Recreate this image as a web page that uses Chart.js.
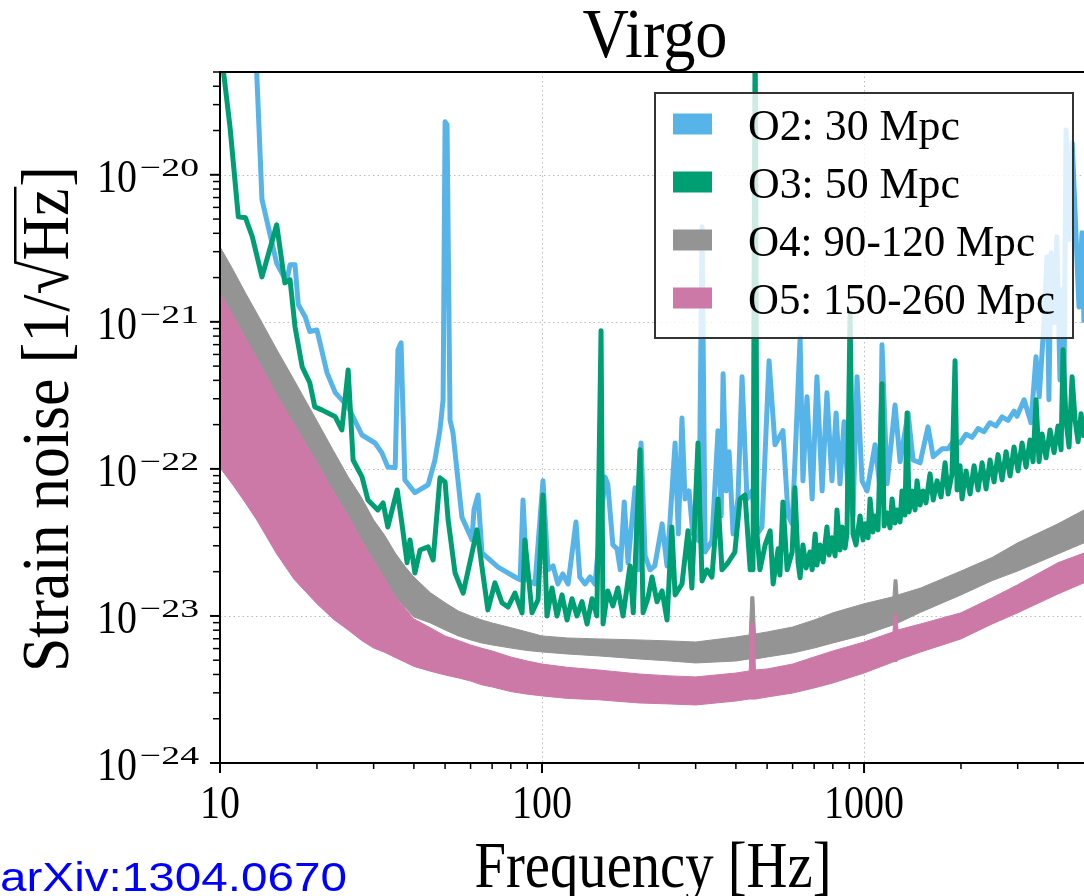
<!DOCTYPE html>
<html lang="en">
<head>
<meta charset="UTF-8" />
<title>Virgo strain noise</title>
<script src="https://cdn.jsdelivr.net/npm/chart.js"></script>
<style>
  html, body { margin: 0; padding: 0; background: #ffffff; }
  #wrap { position: relative; width: 1084px; height: 896px; }
</style>
</head>
<body>
<div id="wrap"><canvas id="noiseChart" width="1084" height="896"></canvas></div>
<script>
// ---- measured spectra (frequency in Hz, strain in 1/sqrt(Hz)) ----
const o2Freq = [
  12.5, 13.0, 13.5, 15.0, 16.1, 16.5, 17.1, 17.5, 18.4, 19.0,
  20.0, 21.5, 22.8, 25.0, 27.6, 30.3, 31.8, 33.2, 35.0, 35.7,
  36.5, 37.5, 40.3, 44.3, 46.5, 48.2, 49.3, 50.0, 50.7, 51.8,
  52.9, 56.4, 60.6, 61.5, 63.3, 65.1, 73.0, 82.4, 85.5, 87.3,
  89.8, 95.1, 100.7, 104.4, 108.2, 112, 116, 120.5, 127.5, 131,
  136, 141, 146, 157, 160, 166, 171, 175, 180, 185,
  194.5, 199, 203, 209, 216.5, 224, 236, 244.5, 259, 265,
  272, 278, 286, 294, 307, 314, 321, 337, 352, 360,
  365, 373, 381, 392, 406, 418, 433, 449, 465, 482,
  507, 529, 560, 581, 598, 610, 633, 646, 665, 690,
  714, 741, 767, 795, 819, 842, 867, 891, 924, 951,
  986, 1022, 1082, 1121, 1137, 1179, 1248, 1294, 1370, 1420,
  1493, 1580, 1640, 1747, 1824, 1903, 1987, 2074, 2165, 2260,
  2358, 2460, 2570, 2683, 2800, 2923, 2985, 3140, 3300, 3420,
  3500, 3620, 3700, 3750, 3810, 3890, 3970, 4060, 4120, 4180,
  4240, 4330, 4430, 4550, 4650, 4750, 4820, 5030
];
const o2Strain = [
  3e-19, 5.0e-20, 6.8e-21, 2.5e-21, 1.87e-21, 2.44e-21, 2.44e-21, 1.31e-21, 1.08e-21, 8.6e-22,
  8.8e-22, 4.5e-22, 3.3e-22, 2.64e-22, 1.7e-22, 1.5e-22, 1.29e-22, 1.03e-22, 1.02e-22, 6.45e-22,
  7.2e-22, 8.4e-23, 6.9e-23, 7.8e-23, 1.15e-22, 1.84e-22, 2.95e-22, 2.29e-20, 2.19e-20, 2.15e-22,
  1.76e-22, 4.7e-23, 3.3e-23, 5.3e-23, 6.65e-23, 2.68e-23, 2.15e-23, 1.84e-23, 1.76e-23, 6.15e-23,
  1.76e-23, 1.65e-23, 8.3e-23, 2.06e-23, 2.19e-23, 1.65e-23, 1.93e-23, 1.65e-23, 4.36e-23, 1.84e-23,
  1.65e-23, 1.84e-23, 1.65e-23, 8.8e-23, 7.9e-23, 3.04e-23, 2.86e-23, 2.06e-23, 5.96e-23, 2.3e-23,
  7.43e-23, 2.06e-23, 1.5e-22, 2.56e-23, 2.06e-23, 2.19e-23, 4.23e-23, 2.19e-23, 1.5e-22, 3.61e-23,
  2.22e-22, 6.25e-23, 7.08e-23, 3.61e-23, 3.24e-23, 4.43e-21, 2.72e-23, 3.24e-23, 1.82e-22, 4.79e-23,
  4.43e-22, 7.08e-23, 1.31e-22, 3.61e-23, 6.25e-23, 4.23e-22, 6.25e-23, 7.08e-23, 3.61e-23, 4.03e-23,
  5.43e-22, 1.46e-22, 1.82e-22, 4.79e-23, 4.23e-23, 1.1e-22, 7.78e-22, 8.29e-23, 3.09e-22, 6.25e-23,
  4.23e-22, 7.08e-23, 3.29e-22, 8.29e-23, 2.4e-22, 7.91e-23, 2.09e-22, 7.43e-23, 4.79e-23, 4.23e-22,
  8.29e-23, 7.08e-23, 1.46e-22, 7.43e-23, 6.98e-22, 7.91e-23, 2.72e-22, 1.12e-22, 2.4e-22, 1.15e-22,
  1.1e-22, 1.93e-22, 1.21e-22, 1.37e-22, 1.37e-22, 1.57e-22, 1.5e-22, 1.72e-22, 1.64e-22, 1.88e-22,
  1.79e-22, 2.06e-22, 1.96e-22, 2.26e-22, 2.14e-22, 2.47e-22, 2.28e-22, 2.95e-22, 2.06e-22, 5.78e-22,
  3.09e-22, 9.84e-22, 2.77e-21, 2.95e-22, 2.95e-21, 9.84e-22, 3.79e-21, 4.03e-22, 1.65e-21, 4.0e-22,
  2.02e-20, 3.61e-21, 1.65e-20, 4.03e-21, 1.26e-21, 4.03e-21, 9.84e-22, 2.95e-22
];

const o3Freq = [
  10, 10.74, 11.4, 12.0, 12.6, 13.5, 15.0, 15.9, 16.5, 17.1,
  18.0, 19.0, 19.7, 20.7, 22.8, 23.9, 25.0, 25.9, 27.6, 28.8,
  30.9, 32.1, 33.2, 35.5, 36.7, 38.1, 38.9, 40.3, 41.8, 44.3,
  45.9, 48.2, 50.0, 51.1, 53.7, 56.9, 60.6, 62.8, 65.1, 67.9,
  71.4, 75.1, 78.4, 82.4, 86.7, 88.5, 93.1, 97.2, 100.7, 103.6,
  107.4, 111.3, 115.4, 119.6, 123.9, 128.4, 133.1, 138, 143, 148,
  152.5, 154.7, 160, 166, 172, 178.5, 187.6, 192, 201.5, 206,
  213, 219.6, 227.5, 236, 244.5, 253, 259, 272, 284, 292,
  305, 314, 325, 337, 352, 362, 378, 397, 412, 427,
  443, 452, 459, 465, 475, 493, 511, 522, 541, 548,
  560, 577, 598, 610, 624, 633, 646, 661, 679, 690,
  705, 714, 730, 746, 767, 779, 795, 813, 824, 842,
  855, 873, 885, 905, 924, 944, 972, 993, 1007, 1029,
  1044, 1066, 1082, 1105, 1137, 1154, 1179, 1204, 1222, 1248,
  1266, 1294, 1312, 1340, 1360, 1380, 1410, 1440, 1461, 1493,
  1525, 1557, 1603, 1640, 1686, 1734, 1785, 1824, 1876, 1917,
  1945, 1987, 2015, 2074, 2134, 2196, 2260, 2326, 2393, 2462,
  2533, 2607, 2683, 2761, 2841, 2923, 3008, 3095, 3185, 3277,
  3348, 3421, 3495, 3571, 3675, 3782, 3891, 4004, 4091, 4150,
  4240, 4332, 4426, 4522, 4620, 4720, 4820
];
const o3Strain = [
  8.0e-20, 2.12e-20, 5.18e-21, 5.1e-21, 3.79e-21, 2.02e-21, 4.57e-21, 1.84e-21, 1.93e-21, 9.25e-22,
  4.94e-22, 3.85e-22, 2.64e-22, 2.52e-22, 2.26e-22, 1.84e-22, 4.71e-22, 1.15e-22, 8.82e-23, 6.15e-23,
  5.26e-23, 5.87e-23, 4.03e-23, 7.19e-23, 4.29e-23, 2.3e-23, 3.29e-23, 1.96e-23, 2.81e-23, 2.95e-23,
  2.4e-23, 8.69e-23, 8.16e-23, 4.5e-23, 1.96e-23, 1.43e-23, 2.68e-23, 3.85e-23, 2.15e-23, 1.1e-23,
  1.68e-23, 1.23e-23, 1.15e-23, 1.43e-23, 1.05e-23, 3.29e-23, 1.05e-23, 1.29e-23, 6.65e-23, 1.0e-23,
  1.55e-23, 1.0e-23, 1.39e-23, 9.39e-24, 1.31e-23, 1.0e-23, 1.25e-23, 8.82e-24, 1.31e-23, 1.0e-23,
  8.69e-22, 8.82e-24, 1.48e-23, 1.17e-23, 1.55e-23, 1.0e-23, 2.19e-23, 1.05e-23, 1.35e-22, 1.05e-23,
  1.31e-23, 1.84e-23, 1.25e-23, 1.48e-23, 9.39e-24, 4.03e-23, 1.39e-23, 1.65e-23, 3.79e-23, 1.55e-23,
  1.5e-22, 1.73e-23, 2.06e-23, 1.84e-23, 6.25e-23, 2.06e-23, 2.3e-23, 2.72e-23, 6.25e-23, 6.65e-23,
  2.06e-23, 2.06e-23, 1.0e-19, 3.61e-23, 2.06e-23, 3.04e-23, 3.79e-23, 1.65e-23, 2.86e-23, 1.9e-23,
  5.96e-23, 2.06e-23, 2.72e-23, 7.43e-23, 2.3e-23, 1.82e-23, 3.04e-23, 2.12e-23, 2.72e-23, 2.06e-23,
  3.61e-23, 2.22e-23, 3.04e-23, 2.33e-23, 4.03e-23, 2.6e-23, 3.4e-23, 2.56e-23, 5.26e-23, 2.81e-23,
  4.03e-23, 2.9e-23, 3.61e-23, 1.15e-21, 3.61e-23, 3.04e-23, 4.79e-23, 3.29e-23, 4.23e-23, 3.4e-23,
  6.25e-23, 3.72e-23, 4.79e-23, 3.85e-23, 3.79e-22, 4.09e-23, 5.02e-23, 3.97e-23, 6.25e-23, 4.29e-23,
  5.26e-23, 4.36e-23, 7.08e-23, 4.86e-23, 2.4e-22, 5.1e-23, 7.08e-23, 5.26e-23, 8.29e-23, 5.69e-23,
  7.08e-23, 5.87e-23, 9.25e-23, 6.15e-23, 8.29e-23, 6.45e-23, 1.1e-22, 6.76e-23, 9.25e-23, 5.43e-22,
  7.19e-23, 1.05e-22, 6.25e-23, 9.69e-23, 6.76e-23, 1.05e-22, 7.19e-23, 1.1e-22, 7.31e-23, 1.15e-22,
  8.16e-23, 1.25e-22, 8.42e-23, 1.31e-22, 8.96e-23, 1.41e-22, 9.69e-23, 1.5e-22, 1.03e-22, 1.57e-22,
  1.12e-22, 2.95e-22, 1.12e-22, 1.73e-22, 1.19e-22, 1.84e-22, 1.29e-22, 1.96e-22, 1.35e-22, 6.45e-22,
  2.09e-22, 1.41e-22, 4.23e-22, 2.15e-22, 1.53e-22, 2.37e-22, 1.63e-22
];

// projected sensitivity bands (upper / lower edge of each range)
const bandFreq = [
  10, 11, 12, 13, 15, 17, 20, 22.5, 25, 27.5,
  30, 32.5, 35, 37.5, 40, 45, 50, 55, 60, 65,
  70, 80, 90, 100, 120, 150, 200, 250, 300, 400,
  440, 445, 455, 460, 500, 600, 700, 800, 1000, 1230,
  1240, 1265, 1275, 1500, 2000, 2500, 3000, 4000, 4820
];
const o4High = [
  3.24e-21, 2.24e-21, 1.57e-21, 1.15e-21, 6.49e-22, 4.01e-22, 2.12e-22, 1.33e-22, 8.83e-23, 6.38e-23,
  4.5e-23, 3.52e-23, 2.68e-23, 2.18e-23, 1.84e-23, 1.44e-23, 1.23e-23, 1.08e-23, 1.0e-23, 9.39e-24,
  8.96e-24, 8.32e-24, 7.78e-24, 7.31e-24, 7.08e-24, 6.98e-24, 6.87e-24, 6.76e-24, 6.65e-24, 7.19e-24,
  7.43e-24, 1.35e-23, 1.35e-23, 7.55e-24, 7.78e-24, 8.41e-24, 9.39e-24, 1.05e-23, 1.21e-23, 1.35e-23,
  1.76e-23, 1.76e-23, 1.39e-23, 1.55e-23, 2.02e-23, 2.5e-23, 3.14e-23, 4.23e-23, 5.26e-23
];
const o4Low = [
  1.57e-21, 1.09e-21, 7.78e-22, 5.66e-22, 3.19e-22, 2.01e-22, 1.1e-22, 7.03e-23, 4.79e-23, 3.29e-23,
  2.37e-23, 1.79e-23, 1.35e-23, 1.15e-23, 9.85e-24, 8.96e-24, 8.03e-24, 7.31e-24, 6.87e-24, 6.55e-24,
  6.35e-24, 6.05e-24, 5.82e-24, 5.69e-24, 5.51e-24, 5.35e-24, 5.1e-24, 4.94e-24, 4.79e-24, 4.94e-24,
  5.1e-24, 5.1e-24, 5.1e-24, 5.1e-24, 5.26e-24, 5.6e-24, 6.05e-24, 6.55e-24, 7.43e-24, 8.69e-24,
  8.82e-24, 8.82e-24, 8.96e-24, 1.06e-23, 1.39e-23, 1.74e-23, 2.02e-23, 2.64e-23, 3.14e-23
];
const o5High = [
  1.57e-21, 1.09e-21, 7.78e-22, 5.66e-22, 3.19e-22, 2.01e-22, 1.1e-22, 7.03e-23, 4.79e-23, 3.29e-23,
  2.37e-23, 1.79e-23, 1.35e-23, 1.13e-23, 9.55e-24, 8.3e-24, 7.31e-24, 6.81e-24, 6.35e-24, 6.03e-24,
  5.78e-24, 5.26e-24, 4.94e-24, 4.71e-24, 4.47e-24, 4.29e-24, 4.03e-24, 3.91e-24, 3.85e-24, 4.09e-24,
  4.23e-24, 8.96e-24, 8.96e-24, 4.29e-24, 4.36e-24, 4.71e-24, 5.26e-24, 5.78e-24, 6.65e-24, 7.78e-24,
  1.02e-23, 1.02e-23, 8.03e-24, 8.83e-24, 1.05e-23, 1.33e-23, 1.63e-23, 2.3e-23, 2.68e-23
];
const o5Low = [
  1.02e-22, 7.71e-23, 5.87e-23, 4.5e-23, 2.64e-23, 1.77e-23, 1.21e-23, 9.5e-24, 8.03e-24, 6.82e-24,
  6.05e-24, 5.65e-24, 5.22e-24, 4.86e-24, 4.54e-24, 4.21e-24, 3.97e-24, 3.79e-24, 3.61e-24, 3.4e-24,
  3.29e-24, 3.06e-24, 2.94e-24, 2.86e-24, 2.75e-24, 2.69e-24, 2.56e-24, 2.52e-24, 2.48e-24, 2.64e-24,
  2.72e-24, 2.72e-24, 2.72e-24, 2.72e-24, 2.81e-24, 2.99e-24, 3.24e-24, 3.5e-24, 4.09e-24, 4.86e-24,
  4.9e-24, 4.9e-24, 5.02e-24, 5.69e-24, 6.98e-24, 8.83e-24, 1.05e-23, 1.41e-23, 1.68e-23
];

// axes
const xMajorTicks = [10, 100, 1000];
const xTickLabels = ["10", "100", "1000"];
const yMajorTicks = [1e-24, 1e-23, 1e-22, 1e-21, 1e-20];
const yTickExponents = ["\u221224", "\u221223", "\u221222", "\u221221", "\u221220"];
const legendLabels = ["O2: 30 Mpc", "O3: 50 Mpc", "O4: 90-120 Mpc", "O5: 150-260 Mpc"];
const seriesColors = ["#56B4E9", "#009E73", "#949494", "#CC79A7"];

const X_MIN = 10, X_MAX = 4820, Y_MIN = 1e-24, Y_MAX = 5.0e-20;
const SERIF = '"Liberation Serif", "DejaVu Serif", serif';
const SANS = '"Liberation Sans", Arial, sans-serif';
const legendTextWidths = [212, 212, 287, 307];

function toPoints(xs, ys) {
  return xs.map((x, i) => ({ x: x, y: ys[i] }));
}

// draw text squeezed/stretched to a measured width
function drawFitText(ctx, text, x, y, size, width, align, family) {
  ctx.save();
  ctx.font = size + "px " + family;
  const w = ctx.measureText(text).width;
  ctx.translate(x, y);
  ctx.scale(width / w, 1);
  ctx.textAlign = align;
  ctx.textBaseline = "alphabetic";
  ctx.fillText(text, 0, 0);
  ctx.restore();
}

function minorValues(decades, max) {
  const out = [];
  decades.forEach(d => {
    for (let m = 2; m <= 9; m++) {
      if (m * d <= max * 1.0001) out.push(m * d);
    }
  });
  return out;
}

const gridPlugin = {
  id: "dottedGrid",
  beforeDatasetsDraw(chart) {
    const { ctx, chartArea: a, scales } = chart;
    ctx.save();
    ctx.strokeStyle = "#bdbdbd";
    ctx.lineWidth = 1;
    ctx.setLineDash([1.5, 3]);
    xMajorTicks.forEach(v => {
      const px = Math.round(scales.x.getPixelForValue(v)) + 0.5;
      if (px <= a.left + 2) return;
      ctx.beginPath();
      ctx.moveTo(px, a.top);
      ctx.lineTo(px, a.bottom);
      ctx.stroke();
    });
    yMajorTicks.forEach(v => {
      const py = Math.round(scales.y.getPixelForValue(v)) + 0.5;
      if (py >= a.bottom - 2) return;
      ctx.beginPath();
      ctx.moveTo(a.left, py);
      ctx.lineTo(a.right, py);
      ctx.stroke();
    });
    ctx.restore();
  }
};

function drawYLabel(ctx) {
  const pre = "Strain noise [1/", root = "\u221A", hz = "Hz", post = "]";
  ctx.save();
  ctx.font = "68px " + SERIF;
  const wPre = ctx.measureText(pre).width;
  const mRoot = ctx.measureText(root);
  const wRoot = mRoot.width;
  const wHz = ctx.measureText(hz).width;
  const wPost = ctx.measureText(post).width;
  const total = wPre + wRoot + wHz + wPost;
  ctx.translate(68, 420);
  ctx.rotate(-Math.PI / 2);
  ctx.scale(504 / total, 1);
  ctx.textAlign = "left";
  ctx.textBaseline = "alphabetic";
  let x0 = -total / 2;
  ctx.fillText(pre, x0, 0);
  x0 += wPre;
  ctx.fillText(root, x0, 0);
  const barStart = x0 + wRoot * 0.92;
  x0 += wRoot;
  ctx.fillText(hz, x0, 0);
  x0 += wHz;
  const asc = mRoot.actualBoundingBoxAscent || 50;
  ctx.fillRect(barStart, -asc, x0 - barStart + 2, 2.5);
  ctx.fillText(post, x0 + 2, 0);
  ctx.restore();
}

const framePlugin = {
  id: "frameAndText",
  afterDraw(chart) {
    const { ctx, chartArea: a, scales } = chart;
    ctx.save();
    ctx.setLineDash([]);
    ctx.strokeStyle = "#000";
    ctx.fillStyle = "#000";

    // spines
    ctx.lineWidth = 2;
    ctx.beginPath();
    ctx.moveTo(a.right, a.top); ctx.lineTo(a.left, a.top);
    ctx.lineTo(a.left, a.bottom); ctx.lineTo(a.right, a.bottom);
    ctx.stroke();

    // x ticks
    xMajorTicks.forEach(v => {
      const px = scales.x.getPixelForValue(v);
      ctx.lineWidth = 2;
      ctx.beginPath(); ctx.moveTo(px, a.bottom); ctx.lineTo(px, a.bottom + 10); ctx.stroke();
    });
    minorValues(xMajorTicks, X_MAX).forEach(v => {
      const px = scales.x.getPixelForValue(v);
      ctx.lineWidth = 1.5;
      ctx.beginPath(); ctx.moveTo(px, a.bottom); ctx.lineTo(px, a.bottom + 6); ctx.stroke();
    });
    // y ticks
    yMajorTicks.forEach(v => {
      const py = scales.y.getPixelForValue(v);
      ctx.lineWidth = 2;
      ctx.beginPath(); ctx.moveTo(a.left, py); ctx.lineTo(a.left - 10, py); ctx.stroke();
    });
    minorValues(yMajorTicks, Y_MAX).forEach(v => {
      const py = scales.y.getPixelForValue(v);
      ctx.lineWidth = 1.5;
      ctx.beginPath(); ctx.moveTo(a.left, py); ctx.lineTo(a.left - 7, py); ctx.stroke();
    });

    // tick labels
    xMajorTicks.forEach((v, i) => {
      const px = scales.x.getPixelForValue(v);
      drawFitText(ctx, xTickLabels[i], px, a.bottom + 55, 46, 20 * xTickLabels[i].length, "center", SERIF);
    });
    yMajorTicks.forEach((v, i) => {
      const py = scales.y.getPixelForValue(v);
      drawFitText(ctx, "10", 137, py + 17, 47, 40, "right", SERIF);
      drawFitText(ctx, yTickExponents[i], 140, py + 1, 26, 59, "left", SERIF);
    });

    // axis titles and title
    drawFitText(ctx, "Frequency [Hz]", 653, 887, 66, 357, "center", SERIF);
    drawYLabel(ctx);
    drawFitText(ctx, "Virgo", 655, 57, 70, 145, "center", SERIF);

    // legend
    ctx.fillStyle = "rgba(255,255,255,0.8)";
    ctx.fillRect(655, 93, 418, 245);
    ctx.strokeStyle = "#333333";
    ctx.lineWidth = 2;
    ctx.strokeRect(655, 93, 418, 245);
    legendLabels.forEach((label, i) => {
      const cy = 124 + i * 58;
      ctx.fillStyle = seriesColors[i];
      ctx.fillRect(673, cy - 10.5, 39, 21);
      ctx.fillStyle = "#000";
      drawFitText(ctx, label, 748, cy + 16, 44, legendTextWidths[i], "left", SERIF);
    });

    // reference tag
    ctx.fillStyle = "#0000ff";
    drawFitText(ctx, "arXiv:1304.0670", 0, 891, 41, 347, "left", SANS);
    ctx.restore();
  }
};

const ctx = document.getElementById("noiseChart").getContext("2d");
new Chart(ctx, {
  type: "line",
  data: {
    datasets: [
      { label: legendLabels[0], data: toPoints(o2Freq, o2Strain), borderColor: seriesColors[0],
        borderWidth: 5, fill: false, order: 2, clip: 0 },
      { label: legendLabels[1], data: toPoints(o3Freq, o3Strain), borderColor: seriesColors[1],
        borderWidth: 5, fill: false, order: 1, clip: 0 },
      { label: "O4 upper", data: toPoints(bandFreq, o4High), borderColor: seriesColors[2],
        backgroundColor: seriesColors[2], borderWidth: 1, fill: "+1", order: 4, clip: 0 },
      { label: "O4 lower", data: toPoints(bandFreq, o4Low), borderColor: seriesColors[2],
        borderWidth: 1, fill: false, order: 4, clip: 0 },
      { label: "O5 upper", data: toPoints(bandFreq, o5High), borderColor: seriesColors[3],
        backgroundColor: seriesColors[3], borderWidth: 1, fill: "+1", order: 3, clip: 0 },
      { label: "O5 lower", data: toPoints(bandFreq, o5Low), borderColor: seriesColors[3],
        borderWidth: 1, fill: false, order: 3, clip: 0 }
    ]
  },
  options: {
    responsive: false,
    animation: false,
    devicePixelRatio: 1,
    parsing: false,
    layout: { padding: { left: 220, top: 72, right: 0, bottom: 133 } },
    elements: {
      point: { radius: 0, hoverRadius: 0 },
      line: { tension: 0, borderJoinStyle: "round", borderCapStyle: "butt" }
    },
    scales: {
      x: { type: "logarithmic", min: X_MIN, max: X_MAX, display: false },
      y: { type: "logarithmic", min: Y_MIN, max: Y_MAX, display: false }
    },
    plugins: {
      legend: { display: false },
      title: { display: false },
      tooltip: { enabled: false }
    },
    events: []
  },
  plugins: [gridPlugin, framePlugin]
});
</script>
</body>
</html>
